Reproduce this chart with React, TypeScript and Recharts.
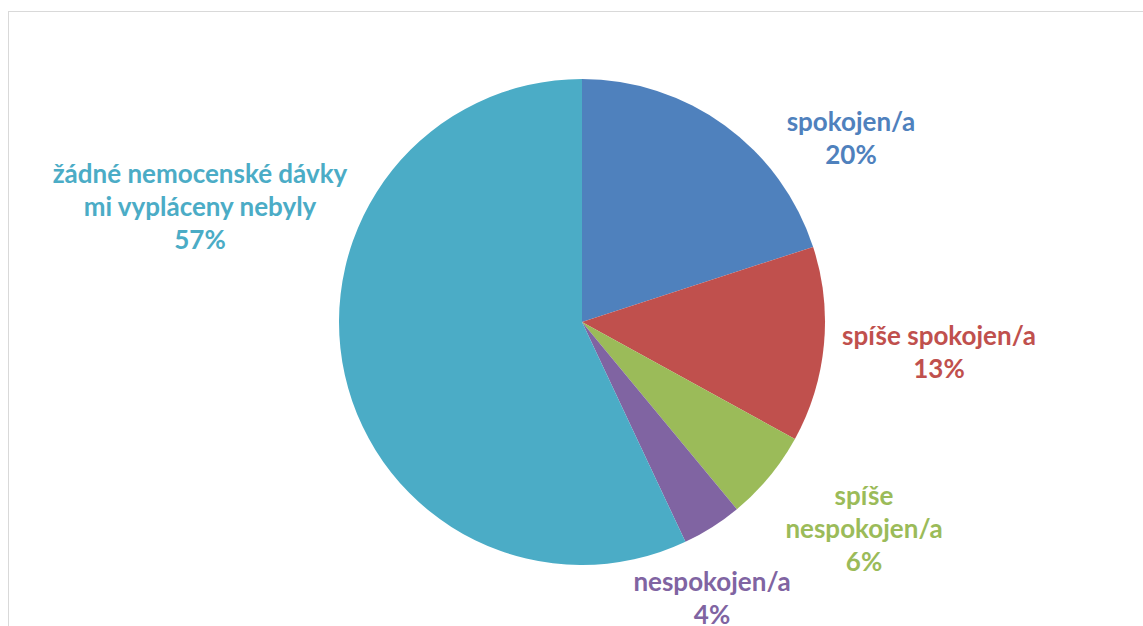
import React from "react";
import { PieChart, Pie, Cell } from "recharts";

const categories = [
  "spokojen/a",
  "spíše spokojen/a",
  "spíše nespokojen/a",
  "nespokojen/a",
  "žádné nemocenské dávky mi vypláceny nebyly",
];
const values = [20, 13, 6, 4, 57];
const labelLines = [
  ["spokojen/a"],
  ["spíše spokojen/a"],
  ["spíše", "nespokojen/a"],
  ["nespokojen/a"],
  ["žádné nemocenské dávky", "mi vypláceny nebyly"],
];
const colors = ["#4F81BD", "#C0504D", "#9BBB59", "#8064A2", "#4BACC6"];

// label block centres, relative to the pie centre
const labelOffsets = [
  [269, -185],
  [357, 29],
  [282, 206],
  [130, 275],
  [-382, -116],
];

const data = categories.map((name, i) => ({ name, value: values[i] }));

const LINE_H = 33;

const renderLabel = (props: any) => {
  const { cx, cy, index, value } = props;
  const lines = [...labelLines[index], `${value}%`];
  const [dx, dy] = labelOffsets[index];
  const x = cx + dx;
  const top = cy + dy - ((lines.length - 1) * LINE_H) / 2;
  return (
    <text
      x={x}
      y={top}
      textAnchor="middle"
      dominantBaseline="central"
      fill={colors[index]}
      fontFamily="Lato, sans-serif"
      fontWeight={700}
      fontSize={26}
    >
      {lines.map((l, i) => (
        <tspan key={i} x={x} y={top + i * LINE_H}>
          {l}
        </tspan>
      ))}
    </text>
  );
};

export default function App() {
  return (
    <div
      style={{
        position: "absolute",
        left: 8,
        top: 11,
        width: 1135,
        height: 615,
        overflow: "hidden",
      }}
    >
      <div
        style={{
          width: 1200,
          height: 700,
          border: "1px solid #d9d9d9",
          background: "#fff",
        }}
      >
        <PieChart
          width={1133}
          height={613}
          margin={{ top: 0, right: 0, bottom: 0, left: 0 }}
        >
          <Pie
            data={data}
            dataKey="value"
            nameKey="name"
            cx={573}
            cy={310}
            outerRadius={243}
            startAngle={90}
            endAngle={-270}
            stroke="none"
            labelLine={false}
            label={renderLabel}
            isAnimationActive={false}
          >
            {data.map((d, i) => (
              <Cell key={d.name} fill={colors[i]} />
            ))}
          </Pie>
        </PieChart>
      </div>
    </div>
  );
}
